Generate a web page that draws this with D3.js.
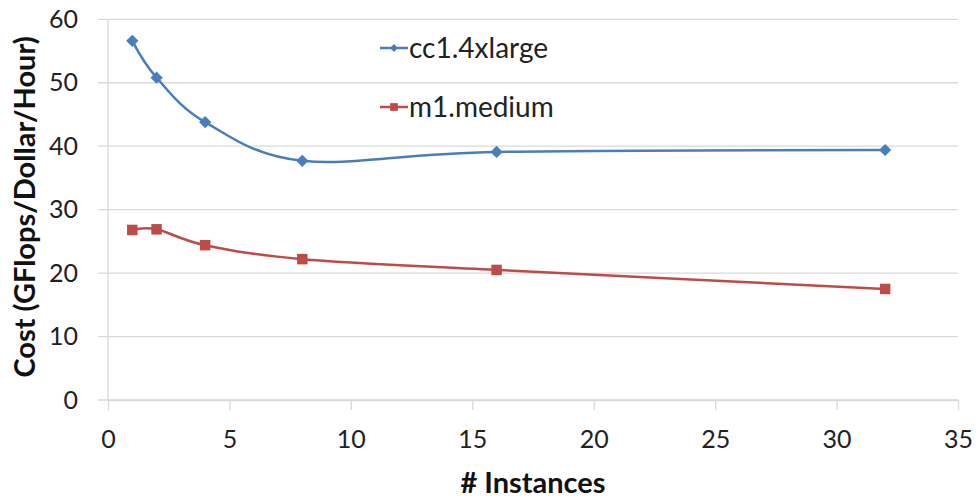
<!DOCTYPE html>
<html><head><meta charset="utf-8">
<script src="https://cdn.jsdelivr.net/npm/d3@7"></script>
<style>
html,body{margin:0;padding:0;background:#fff;}
svg{display:block;font-family:Lato,"Open Sans",sans-serif;}
</style></head>
<body><svg id="c" width="977" height="502"></svg>
<script>
const instances = [1, 2, 4, 8, 16, 32];
const cc14xlarge = [56.6, 50.8, 43.8, 37.7, 39.1, 39.4];
const m1medium = [26.8, 26.9, 24.4, 22.2, 20.5, 17.5];
const seriesNames = ["cc1.4xlarge", "m1.medium"];
const xTicks = [0, 5, 10, 15, 20, 25, 30, 35];
const yTicks = [0, 10, 20, 30, 40, 50, 60];

const svg = d3.select("#c");
const x = d3.scaleLinear().domain([0, 35]).range([108, 958]);
const y = d3.scaleLinear().domain([0, 60]).range([400, 19.3]);

// gridlines
svg.append("g").selectAll("line").data(yTicks).join("line")
  .attr("x1", 98).attr("x2", 958)
  .attr("y1", d => y(d)).attr("y2", d => y(d))
  .attr("stroke", "#d9d9d9").attr("stroke-width", 1.3);

// y axis line
svg.append("line").attr("x1", 108).attr("x2", 108).attr("y1", y(60)).attr("y2", y(0))
  .attr("stroke", "#d9d9d9").attr("stroke-width", 1.3);

// x axis
const xAxis = svg.append("g").attr("transform", "translate(0,400)")
  .call(d3.axisBottom(x).tickValues(xTicks).tickSize(10).tickSizeOuter(0).tickPadding(20));
xAxis.select(".domain").attr("stroke", "#d9d9d9").attr("stroke-width", 1.3);
xAxis.selectAll(".tick line").attr("stroke", "#d9d9d9").attr("stroke-width", 1.3);
xAxis.selectAll(".tick text").attr("font-size", 25).attr("fill", "#222").attr("font-family", "Lato,'Open Sans',sans-serif");

// y axis labels
const yAxis = svg.append("g").attr("transform", "translate(108,0)")
  .call(d3.axisLeft(y).tickValues(yTicks).tickSize(0).tickPadding(30));
yAxis.select(".domain").remove();
yAxis.selectAll(".tick text").attr("font-size", 25).attr("fill", "#222").attr("font-family", "Lato,'Open Sans',sans-serif");

// titles
svg.append("text").attr("x", 533).attr("y", 493).attr("text-anchor", "middle")
  .attr("font-size", 29).attr("font-weight", "bold").attr("fill", "#111").text("# Instances");
svg.append("text").attr("transform", "translate(35,207) rotate(-90)").attr("text-anchor", "middle")
  .attr("font-size", 29).attr("font-weight", "bold").attr("fill", "#111").text("Cost (GFlops/Dollar/Hour)");

const colors = ["#4a7ebb", "#be4b48"];
const data = [cc14xlarge, m1medium];
const line = d3.line().x((d, i) => x(instances[i])).y(d => y(d)).curve(d3.curveCardinal.tension(0));

const diamond = d3.symbol().type(d3.symbolDiamond2).size(95);
const square = d3.symbol().type(d3.symbolSquare).size(110);
const syms = [diamond, square];

data.forEach((vals, s) => {
  svg.append("path").attr("d", line(vals)).attr("fill", "none")
    .attr("stroke", colors[s]).attr("stroke-width", 2.5);
  svg.append("g").selectAll("path").data(vals).join("path")
    .attr("transform", (d, i) => `translate(${x(instances[i])},${y(d)})`)
    .attr("d", syms[s]()).attr("fill", colors[s]);
});

// legend
const legY = [48, 107];
seriesNames.forEach((n, s) => {
  const g = svg.append("g").attr("transform", `translate(0,${legY[s]})`);
  g.append("line").attr("x1", 380).attr("x2", 408).attr("stroke", colors[s]).attr("stroke-width", 2.5);
  g.append("path").attr("transform", "translate(394,0)")
    .attr("d", (s === 0 ? d3.symbol().type(d3.symbolDiamond2).size(40) : d3.symbol().type(d3.symbolSquare).size(60))())
    .attr("fill", colors[s]);
  g.append("text").attr("x", 409).attr("y", 0).attr("dy", "0.35em")
    .attr("font-size", 28).attr("fill", "#222").text(n);
});
</script></body></html>
